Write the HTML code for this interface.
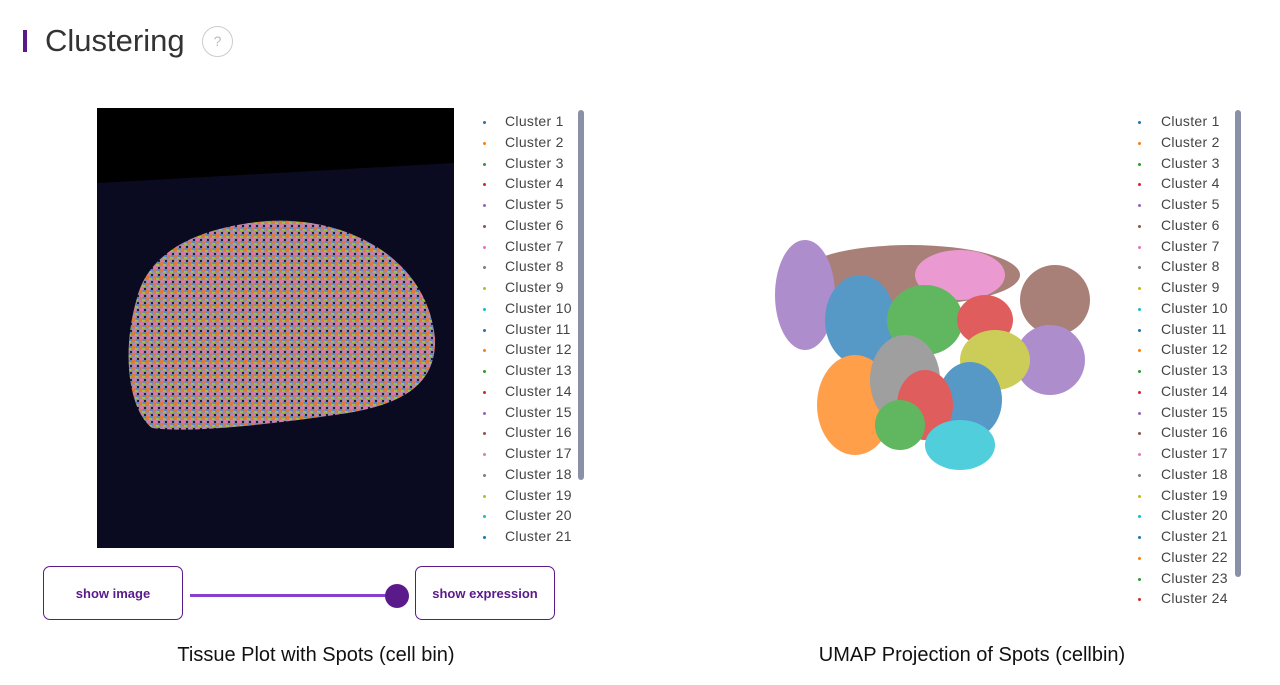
<!DOCTYPE html><html><head><style>
body{margin:0;width:1280px;height:685px;background:#fff;font-family:"Liberation Sans",sans-serif;position:relative;overflow:hidden}
.a{position:absolute}
.leg div{position:absolute;font-size:14px;color:#444;white-space:nowrap;letter-spacing:0.3px}
.leg span{position:absolute;width:3px;height:3px;border-radius:50%}
.btn{position:absolute;border:1px solid #5b1a8a;border-radius:7px;color:#5b1a8a;font-size:13px;font-weight:bold;display:flex;align-items:center;justify-content:center;box-sizing:border-box}
.t{position:absolute;font-size:20px;color:#111;text-align:center;width:500px}
</style></head><body>
<div class="a" style="left:23px;top:30px;width:4px;height:22px;background:#5b1a8a"></div>
<div class="a" style="left:45px;top:23px;font-size:31px;color:#333">Clustering</div>
<div class="a" style="left:202px;top:26px;width:29px;height:29px;border:1px solid #ccc;border-radius:50%;color:#bbb;font-size:14px;text-align:center;line-height:29px">?</div>

<svg class="a" style="left:97px;top:108px" width="357" height="440">
<defs><pattern id="p" width="7" height="7" patternUnits="userSpaceOnUse">
<rect width="7" height="7" fill="#9a8aa8"/><rect width="3" height="3" fill="#e07a3a"/><rect x="3" y="2" width="3" height="2" fill="#9fc040"/><rect x="1" y="4" width="3" height="3" fill="#d87aa8"/><rect x="5" y="5" width="2" height="2" fill="#202030"/><rect x="4" y="0" width="3" height="2" fill="#5f87c8"/></pattern></defs>
<rect width="357" height="440" fill="#0a0a20"/>
<polygon points="0,0 357,0 357,55 0,75" fill="#000"/>
<path d="M40,190 C50,150 90,120 170,113 C250,108 330,150 338,230 C340,280 300,300 230,308 C160,318 90,325 55,320 C30,300 25,240 40,190 Z" fill="url(#p)"/>
</svg>

<div class="leg" id="l1"></div><div class="leg" id="l2"></div>
<div class="a" style="left:578px;top:110px;width:6px;height:370px;background:#8a90a8;border-radius:3px"></div>
<div class="a" style="left:1235px;top:110px;width:6px;height:467px;background:#8a90a8;border-radius:3px"></div>

<svg class="a" style="left:760px;top:220px" width="340" height="270">
<g opacity="0.75">
<ellipse cx="150" cy="55" rx="110" ry="30" fill="#8c564b"/>
<ellipse cx="295" cy="80" rx="35" ry="35" fill="#8c564b"/>
<ellipse cx="200" cy="55" rx="45" ry="25" fill="#e377c2"/>
<ellipse cx="45" cy="75" rx="30" ry="55" fill="#9467bd"/>
<ellipse cx="290" cy="140" rx="35" ry="35" fill="#9467bd"/>
<ellipse cx="100" cy="100" rx="35" ry="45" fill="#1f77b4"/>
<ellipse cx="165" cy="100" rx="38" ry="35" fill="#2ca02c"/>
<ellipse cx="225" cy="100" rx="28" ry="25" fill="#d62728"/>
<ellipse cx="235" cy="140" rx="35" ry="30" fill="#bcbd22"/>
<ellipse cx="95" cy="185" rx="38" ry="50" fill="#ff7f0e"/>
<ellipse cx="145" cy="160" rx="35" ry="45" fill="#7f7f7f"/>
<ellipse cx="210" cy="180" rx="32" ry="38" fill="#1f77b4"/>
<ellipse cx="165" cy="185" rx="28" ry="35" fill="#d62728"/>
<ellipse cx="200" cy="225" rx="35" ry="25" fill="#17becf"/>
<ellipse cx="140" cy="205" rx="25" ry="25" fill="#2ca02c"/>
</g></svg>

<div class="btn" style="left:43px;top:566px;width:140px;height:54px">show image</div>
<div class="a" style="left:190px;top:594px;width:210px;height:3px;background:#8b3fd0"></div>
<div class="a" style="left:385px;top:584px;width:24px;height:24px;border-radius:50%;background:#5b1a8a"></div>
<div class="btn" style="left:415px;top:566px;width:140px;height:54px">show expression</div>

<div class="t" style="left:66px;top:644px">Tissue Plot with Spots (cell bin)</div>
<div class="t" style="left:722px;top:644px">UMAP Projection of Spots (cellbin)</div>
<script>
var c=["#1f77b4","#ff7f0e","#2ca02c","#d62728","#9467bd","#8c564b","#e377c2","#7f7f7f","#bcbd22","#17becf"];
function L(id,dx,tx,n){var h="";for(var i=0;i<n;i++){var y=113+i*20.75;h+='<span style="left:'+dx+'px;top:'+(y+8)+'px;background:'+c[i%10]+'"></span><div style="left:'+tx+'px;top:'+y+'px">Cluster '+(i+1)+'</div>';}document.getElementById(id).innerHTML=h;}
L("l1",483,505,21);L("l2",1138,1161,24);
</script>
<div class="a" style="left:1130px;top:603px;width:150px;height:20px;background:#fff"></div>
</body></html>
